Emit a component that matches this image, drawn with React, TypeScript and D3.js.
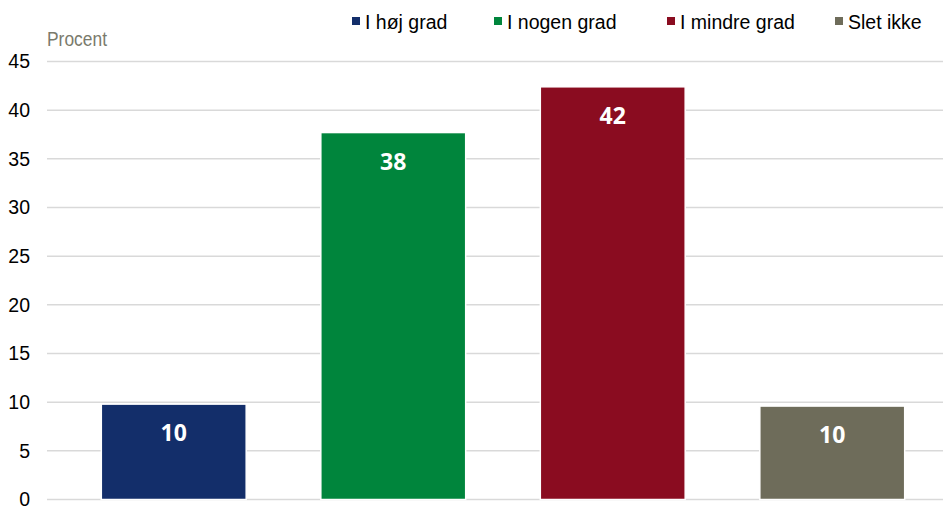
import React from "react";
import * as d3 from "d3";

const categories = ["I høj grad", "I nogen grad", "I mindre grad", "Slet ikke"];
const values = [9.8, 37.7, 42.4, 9.6];
const labels = ["10", "38", "42", "10"];
const colors = ["#132e6a", "#00853c", "#8a0c20", "#6e6c5a"];
const yTicks = [0, 5, 10, 15, 20, 25, 30, 35, 40, 45];

export default function App() {
  const W = 943, H = 506;
  const y = d3.scaleLinear().domain([0, 45]).range([499.5, 61.5]);
  const x = d3.scaleBand<string>().domain(categories).range([64, 942]).paddingInner(0.34).paddingOuter(0.17);
  const legendX = [352, 494, 667, 835];
  return (
    <svg width={W} height={H} style={{ position: "absolute", left: 0, top: 0 }}>
      <rect width={W} height={H} fill="#fff" />
      {yTicks.map((t) => (
        <g key={t}>
          <line x1={47} x2={943} y1={y(t)} y2={y(t)} stroke="#d9d9d9" strokeWidth={1.5} />
          <text x={30} y={y(t)} dy="0.35em" textAnchor="end" fontFamily="Liberation Sans, Arial, sans-serif" fontSize={19.5} fill="#000">{t}</text>
        </g>
      ))}
      <text x={47} y={46} fontFamily="Liberation Sans, Arial, sans-serif" fontSize={20} fill="#7a7a6c" textLength={60} lengthAdjust="spacingAndGlyphs">Procent</text>
      {categories.map((c, i) => (
        <g key={c}>
          <rect x={x(c)!} width={x.bandwidth()} y={y(values[i])} height={y(0) - y(values[i])} fill={colors[i]} stroke="#fff" strokeWidth={1.5} />
          <text x={x(c)! + x.bandwidth() / 2} y={y(values[i]) + 29} dy="0.35em" textAnchor="middle" fontFamily="Open Sans, sans-serif" fontWeight="bold" fontSize={23} fill="#fff">{labels[i]}</text>
        </g>
      ))}
      {categories.map((c, i) => (
        <g key={"l" + c}>
          <rect x={legendX[i]} y={17} width={8} height={8} fill={colors[i]} />
          <text x={legendX[i] + 13} y={29} fontFamily="Liberation Sans, Arial, sans-serif" fontSize={19.5} fill="#000">{c}</text>
        </g>
      ))}
    </svg>
  );
}
